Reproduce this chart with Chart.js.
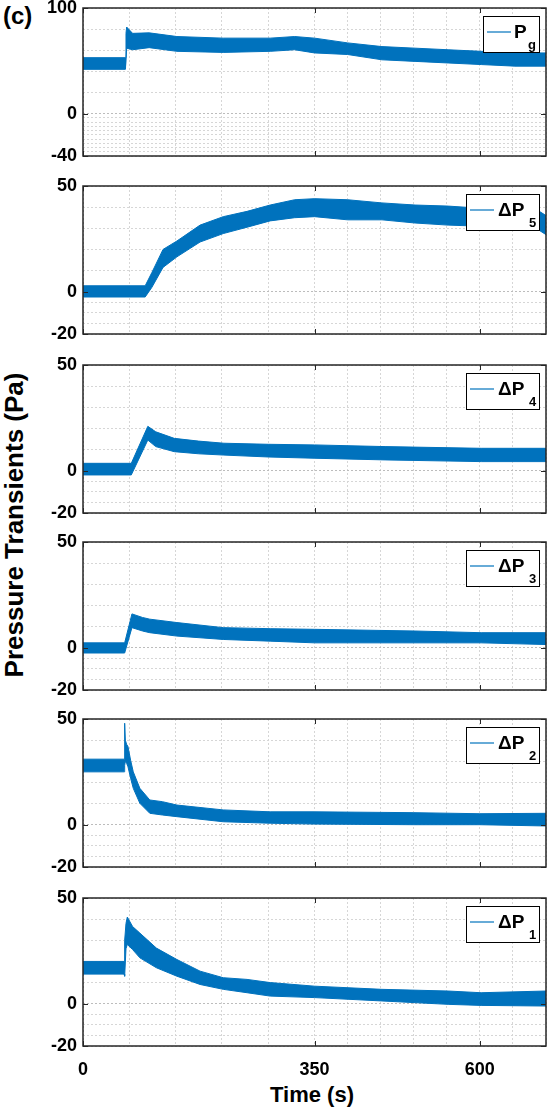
<!DOCTYPE html>
<html>
<head>
<meta charset="utf-8">
<title>Pressure transients</title>
<script src="https://cdn.jsdelivr.net/npm/chart.js@4"></script>
<style>
    body {
        margin: 0;
        width: 550px;
        height: 1112px;
        position: relative;
        overflow: hidden;
        background: #fff;
        font-family: 'Liberation Sans', Arial, sans-serif;
    }
    .panel { position: absolute; left: 0; width: 550px; }
    .label { position: absolute; font-weight: bold; color: #000; white-space: nowrap; line-height: 1; }
</style>
</head>
<body>
<div class="label" style="left:3px; top:4px; font-size:24px;">(c)</div>
<div class="label" style="left:14px; top:525px; font-size:26px; transform: translate(-50%, -50%) rotate(-90deg);">Pressure Transients (Pa)</div>
<div class="label" style="left:312px; top:1084px; font-size:22px; transform: translateX(-50%);">Time (s)</div>
<script>
// time axis: minor grid lines and labelled ticks
const xGrid = [0, 70, 140, 210, 280, 350, 400, 450, 500, 550, 600, 650, 700];
const xLabels = [0, 350, 600];

// y axes
const yGridPg = [-40, -36, -32, -28, -24, -20, -16, -12, -8, -4, 0, 20, 40, 60, 80, 100];
const yLabelsPg = [-40, 0, 100];
const yGridDp = [-20, -15, -10, -5, 0, 10, 20, 30, 40, 50];
const yLabelsDp = [-20, 0, 50];

// each trace is a noisy band: upper and lower edge
const pgTime = [0, 64, 65, 66, 75, 100, 142, 212, 283, 320, 350, 400, 452, 502, 552, 602, 653, 700];
const pgHigh = [53, 53, 76, 82, 76, 76.5, 73, 71.5, 71.5, 73, 71.5, 67, 63.5, 62, 60.5, 59, 57.5, 57.5];
const pgLow = [42, 42, 42, 62, 60.5, 62.5, 59, 58, 59, 60.5, 57.5, 56, 51, 49.5, 48, 46.5, 45, 45];

const p5Time = [0, 94, 104, 121, 142, 177, 212, 248, 283, 320, 350, 400, 452, 502, 552, 600, 650, 690, 700];
const p5High = [2.8, 2.8, 9, 20, 24, 31.5, 35.5, 38, 41, 43.5, 44, 43.5, 42, 41, 40.5, 39.5, 39, 38, 36];
const p5Low = [-2.5, -2.5, 2, 11.5, 16.5, 23.5, 27.5, 30.5, 33.5, 35, 35.5, 34, 34, 32.5, 31.5, 31, 30.5, 29, 27];

const p4Time = [0, 73, 98, 110, 138, 175, 213, 280, 350, 458, 602, 700];
const p4High = [3.5, 3.5, 21, 18.4, 15.3, 14, 13, 12.5, 12.2, 11.4, 10.6, 10.6];
const p4Low = [-2, -2, 14.5, 11.4, 9, 8, 7.4, 6.5, 5.9, 5.1, 4.3, 4.3];

const p3Time = [0, 63, 74, 90, 101, 142, 212, 283, 350, 502, 602, 700];
const p3High = [2.3, 2.3, 16, 14.3, 13.5, 11.9, 9.5, 9, 8.7, 7.9, 7.1, 7.1];
const p3Low = [-2.5, -2.5, 9.5, 7.9, 7.1, 5.5, 3.9, 3.1, 2.3, 2.3, 2.3, 1.5];

const p2Time = [0, 62, 63, 64, 66, 68, 72, 76, 86, 101, 120, 142, 212, 283, 350, 500, 600, 700];
const p2High = [31, 31, 48, 40, 38, 37, 30.5, 25, 17.2, 11.7, 10.9, 9.3, 7, 6.1, 6.1, 5.7, 5.2, 5.4];
const p2Low = [25, 25, 28, 30, 29, 27.4, 22, 17.2, 10.1, 5.4, 4.6, 3.8, 1.4, 0.7, 0.3, 0, 0, -0.6];

const p1Time = [0, 62, 63, 65, 67, 75, 86, 111, 142, 177, 212, 248, 283, 350, 452, 552, 602, 700];
const p1High = [20, 20, 30, 38, 41, 36.5, 33.4, 26.3, 20.9, 15.4, 12.3, 11.5, 10, 8.3, 6.8, 6, 5.2, 6];
const p1Low = [14, 14, 13, 26, 28, 25.6, 21.7, 17, 13, 9.1, 6.8, 5.2, 3.6, 2.9, 1.3, -0.3, -0.8, -1.1];

const panels = [
    { name: 'P', sub: 'g', time: pgTime, high: pgHigh, low: pgLow, grid: yGridPg, labels: yLabelsPg },
    { name: '\u0394P', sub: '5', time: p5Time, high: p5High, low: p5Low, grid: yGridDp, labels: yLabelsDp },
    { name: '\u0394P', sub: '4', time: p4Time, high: p4High, low: p4Low, grid: yGridDp, labels: yLabelsDp },
    { name: '\u0394P', sub: '3', time: p3Time, high: p3High, low: p3Low, grid: yGridDp, labels: yLabelsDp },
    { name: '\u0394P', sub: '2', time: p2Time, high: p2High, low: p2Low, grid: yGridDp, labels: yLabelsDp },
    { name: '\u0394P', sub: '1', time: p1Time, high: p1High, low: p1Low, grid: yGridDp, labels: yLabelsDp }
];

const panelTops = [8, 186, 365, 542, 719, 898];
const panelHeight = 148;
const traceBlue = '#0072BD';
const fontFamily = "'Liberation Sans', Arial, sans-serif";

// black frame plus the small inward ticks matlab draws
const boxPlugin = {
    id: 'panelBox',
    afterDraw(chart) {
        const { ctx, chartArea: a, scales } = chart;
        const opts = chart.options.plugins.panelBox;
        ctx.save();
        ctx.strokeStyle = '#262626';
        ctx.lineWidth = 1;
        ctx.beginPath();
        xLabels.forEach(v => {
            const px = Math.round(scales.x.getPixelForValue(v)) + 0.5;
            ctx.moveTo(px, a.top); ctx.lineTo(px, a.top + 5);
            ctx.moveTo(px, a.bottom); ctx.lineTo(px, a.bottom - 5);
        });
        opts.yMajor.forEach(v => {
            const py = Math.round(scales.y.getPixelForValue(v)) + 0.5;
            ctx.moveTo(a.left, py); ctx.lineTo(a.left + 5, py);
            ctx.moveTo(a.right, py); ctx.lineTo(a.right - 5, py);
        });
        ctx.stroke();
        ctx.lineWidth = 1.5;
        ctx.strokeRect(a.left, a.top, a.right - a.left, a.bottom - a.top);
        ctx.restore();
    }
};

// legend box with subscript, top right of each panel
const legendPlugin = {
    id: 'panelLegend',
    afterDraw(chart) {
        const { ctx, chartArea: a } = chart;
        const opts = chart.options.plugins.panelLegend;
        const wide = opts.name.length > 1;
        const w = wide ? 73 : 56;
        const h = 36;
        const left = Math.round(a.right - 7 - w);
        const top = Math.round(a.top + 8);
        ctx.save();
        ctx.fillStyle = '#fff';
        ctx.fillRect(left, top, w, h);
        ctx.strokeStyle = '#000';
        ctx.lineWidth = 1;
        ctx.strokeRect(left + 0.5, top + 0.5, w, h);
        ctx.strokeStyle = traceBlue;
        ctx.lineWidth = 1.2;
        ctx.beginPath();
        ctx.moveTo(left + 4, top + 16);
        ctx.lineTo(left + 28, top + 16);
        ctx.stroke();
        ctx.fillStyle = '#000';
        ctx.textBaseline = 'alphabetic';
        ctx.font = 'bold 19px ' + fontFamily;
        ctx.fillText(opts.name, left + (wide ? 32 : 31), top + 22);
        ctx.font = 'bold 13px ' + fontFamily;
        ctx.fillText(opts.sub, left + (wide ? 63 : 45), top + 33);
        ctx.restore();
    }
};

function gridColor(ctx) {
    return ctx.tick && ctx.tick.value === 0 ? '#bcbcbc' : '#d6d6d6';
}

function makePanel(p, i) {
    const isLast = i === panels.length - 1;
    const padTop = 14;
    const bottomSpace = isLast ? 44 : 14;
    const wrap = document.createElement('div');
    wrap.className = 'panel';
    wrap.style.top = (panelTops[i] - padTop) + 'px';
    wrap.style.height = (panelHeight + padTop + bottomSpace) + 'px';
    const canvas = document.createElement('canvas');
    wrap.appendChild(canvas);
    document.body.appendChild(wrap);

    const tickFont = { family: fontFamily, size: 18, weight: 'bold' };

    new Chart(canvas, {
        type: 'line',
        data: {
            datasets: [
                {
                    data: p.time.map((t, k) => ({ x: t, y: p.high[k] })),
                    borderColor: traceBlue,
                    backgroundColor: traceBlue,
                    borderWidth: 1,
                    pointRadius: 0,
                    fill: '+1'
                },
                {
                    data: p.time.map((t, k) => ({ x: t, y: p.low[k] })),
                    borderColor: traceBlue,
                    borderWidth: 1,
                    pointRadius: 0,
                    fill: false
                }
            ]
        },
        options: {
            responsive: true,
            maintainAspectRatio: false,
            animation: false,
            layout: { padding: { top: padTop, right: 4, left: 0, bottom: 0 } },
            plugins: {
                legend: { display: false },
                tooltip: { enabled: false },
                panelBox: { yMajor: p.labels },
                panelLegend: { name: p.name, sub: p.sub }
            },
            scales: {
                x: {
                    type: 'linear',
                    min: 0,
                    max: 700,
                    afterBuildTicks: s => { s.ticks = xGrid.map(v => ({ value: v })); },
                    afterFit: s => {
                        s.height = bottomSpace;
                        s.paddingLeft = 0;
                        s.paddingRight = 0;
                    },
                    ticks: {
                        display: isLast,
                        autoSkip: false,
                        maxRotation: 0,
                        padding: 13,
                        color: '#000',
                        font: tickFont,
                        callback: v => xLabels.includes(v) ? String(v) : ''
                    },
                    grid: { color: gridColor, lineWidth: 1, drawTicks: false },
                    border: { display: false, dash: [2, 2] }
                },
                y: {
                    type: 'linear',
                    min: p.grid[0],
                    max: p.grid[p.grid.length - 1],
                    afterBuildTicks: s => { s.ticks = p.grid.map(v => ({ value: v })); },
                    afterFit: s => {
                        s.width = 83;
                        s.paddingTop = 0;
                        s.paddingBottom = 0;
                    },
                    ticks: {
                        autoSkip: false,
                        padding: 6,
                        color: '#000',
                        font: tickFont,
                        callback: v => p.labels.includes(v) ? String(v) : ''
                    },
                    grid: { color: gridColor, lineWidth: 1, drawTicks: false },
                    border: { display: false, dash: [2, 2] }
                }
            }
        },
        plugins: [boxPlugin, legendPlugin]
    });
}

panels.forEach(makePanel);
</script>
</body>
</html>
